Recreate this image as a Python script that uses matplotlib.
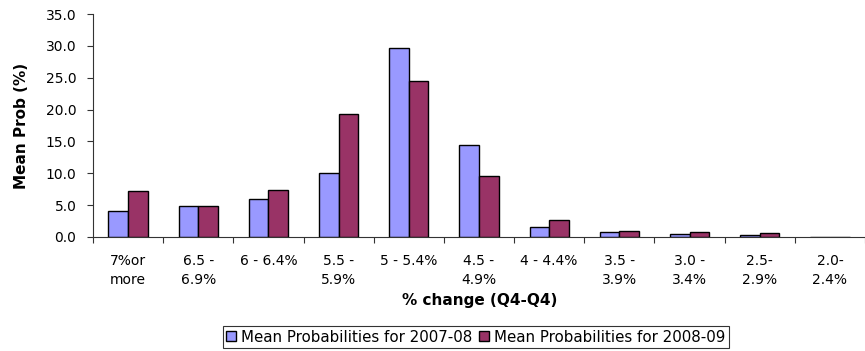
import matplotlib
matplotlib.use("Agg")
import matplotlib.pyplot as plt
import numpy as np

# bins of % change (Q4-Q4)
categories = ['7%or\nmore', '6.5 -\n6.9%', '6 - 6.4%', '5.5 -\n5.9%', '5 - 5.4%',
              '4.5 -\n4.9%', '4 - 4.4%', '3.5 -\n3.9%', '3.0 -\n3.4%', '2.5-\n2.9%',
              '2.0-\n2.4%']
prob_2007_08 = [4.1, 4.9, 5.9, 10.0, 29.6, 14.4, 1.5, 0.8, 0.5, 0.3, 0.0]
prob_2008_09 = [7.2, 4.9, 7.4, 19.3, 24.5, 9.5, 2.6, 1.0, 0.8, 0.55, 0.0]
series_names = ['Mean Probabilities for 2007-08', 'Mean Probabilities for 2008-09']
y_ticks = [0, 5, 10, 15, 20, 25, 30, 35]

plt.rcParams['font.family'] = ['DejaVu Sans']

fig = plt.figure(figsize=(8.65, 3.51), dpi=100)
ax = fig.add_axes([93 / 865, 114 / 351, 772 / 865, 223 / 351])

x = np.arange(len(categories))
w = 0.28
b1 = ax.bar(x - w / 2, prob_2007_08, w, color='#9999FF', edgecolor='black',
            linewidth=1.0, label=series_names[0])
b2 = ax.bar(x + w / 2, prob_2008_09, w, color='#993366', edgecolor='black',
            linewidth=1.0, label=series_names[1])

ax.set_ylim(0, 35)
ax.set_xlim(-0.5, -0.5 + 772 / 70.7)
ax.set_yticks(y_ticks)
ax.set_yticklabels(['%.1f' % v for v in y_ticks], fontsize=10)

# ticks between categories, labels at centers
ax.set_xticks(np.arange(len(categories) + 1) - 0.5)
ax.set_xticklabels([])
ax.set_xticks(x, minor=True)
ax.set_xticklabels(categories, minor=True, fontsize=10, linespacing=1.45)
ax.tick_params(axis='x', which='minor', length=0, pad=12)
ax.tick_params(axis='x', which='major', length=4, direction='out', color='#333333')
ax.tick_params(axis='y', length=4, direction='out', color='#333333', pad=8)

for s in ['top', 'right']:
    ax.spines[s].set_visible(False)
for s in ['left', 'bottom']:
    ax.spines[s].set_color('#333333')

ax.set_ylabel('Mean Prob (%)', fontsize=11, fontweight='bold', labelpad=12)
fig.text(480 / 865, 1 - 300 / 351, '% change (Q4-Q4)', fontsize=11,
         fontweight='bold', ha='center', va='center')

leg = fig.legend(handles=[b1, b2], loc='center', bbox_to_anchor=(476 / 865, 1 - 337 / 351),
                 ncol=2, fontsize=10.8, frameon=True, fancybox=False, edgecolor='black',
                 handlelength=0.65, handleheight=0.65, handletextpad=0.35,
                 columnspacing=0.45, borderpad=0.25, borderaxespad=0)
leg.get_frame().set_linewidth(0.8)

fig.savefig('out.png', dpi=100)
